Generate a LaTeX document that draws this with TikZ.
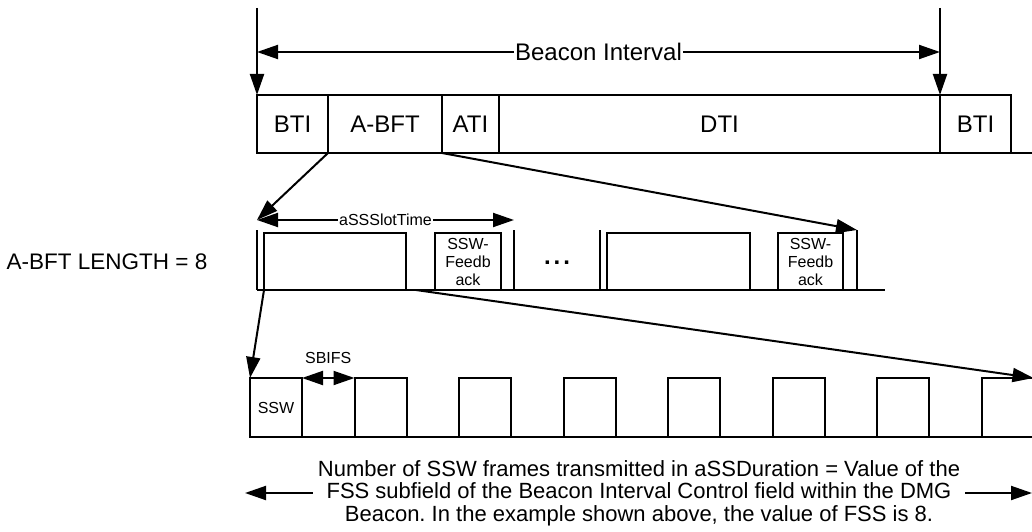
\documentclass[tikz,border=0pt]{standalone}
\usepackage{fontspec}
\setmainfont{Liberation Sans}
\usetikzlibrary{arrows.meta,calc}
\frenchspacing

\begin{document}
\begin{tikzpicture}[
  x=1pt, y=-1pt,
  font=\fontsize{24}{28}\selectfont,
  seg/.style={draw, line width=2pt, minimum height=58pt, inner sep=0pt, outer sep=0pt, anchor=north west},
  frm/.style={draw, line width=2pt, minimum height=57pt, inner sep=0pt, outer sep=0pt, anchor=south west, align=center, font=\fontsize{16}{18}\selectfont},
  ssw/.style={draw, line width=2pt, minimum height=59pt, minimum width=52pt, inner sep=0pt, outer sep=0pt, anchor=south west, font=\fontsize{16}{18}\selectfont},
  bar/.style={line width=2pt},
  arr/.style={-{Triangle[length=21pt, width=14pt]}, line width=2pt},
  dbl/.style={{Triangle[length=21pt, width=14pt]}-{Triangle[length=21pt, width=14pt]}, line width=2pt},
  lbl/.style={font=\fontsize{16}{18}\selectfont},
]
\useasboundingbox (0,0) rectangle (1032,532);

% ================= beacon interval =================
\node[seg, minimum width=71pt] (bti) at (257,95) {BTI};
\node[seg, minimum width=114pt] (abft) at (328,95) {A-BFT};
\node[seg, minimum width=57pt] (ati) at (442,95) {ATI};
\node[seg, minimum width=441pt] (dti) at (499,95) {DTI};
\node[seg, minimum width=71pt] (bti2) at (940,95) {BTI};
\coordinate (rowend) at (1032,153);
\draw[bar] (bti2.south east) -- (bti2.south east -| rowend);

% start / end markers
\coordinate (bstart) at (257,8);
\coordinate (bstop) at (940,8);
\draw[arr] (bstart) -- (bti.north west);
\draw[arr] (bstop) -- (bti2.north west);
\coordinate (bil) at (257,52);
\coordinate (bir) at (940,52);
\draw[dbl] (bil) -- node[fill=white, inner sep=1pt]{Beacon Interval} (bir);

% ================= A-BFT slots =================
\node[font=\fontsize{22.5}{26}\selectfont] (abftlen) at (107,262) {A-BFT LENGTH = 8};

\coordinate (bar1t) at (257,230);
\coordinate (bar1b) at (257,290);
\draw[bar] (bar1t) -- (bar1b);
\node[frm, minimum width=142pt] (slot1) at (264,290) {};
\node[frm, minimum width=66pt] (fb1) at (435,290) {SSW-\\Feedb\\ack};
\coordinate (bar2t) at (514,230);
\coordinate (bar2b) at (514,290);
\draw[bar] (bar2t) -- (bar2b);

\node[font=\fontsize{24}{24}\selectfont\bfseries] (dots) at (557,263) {.\kern3pt.\kern3pt.};

\coordinate (bar3t) at (600,230);
\coordinate (bar3b) at (600,290);
\draw[bar] (bar3t) -- (bar3b);
\node[frm, minimum width=143pt] (slot2) at (607,290) {};
\node[frm, minimum width=65pt] (fb2) at (778,290) {SSW-\\Feedb\\ack};
\coordinate (bar4t) at (857,230);
\coordinate (bar4b) at (857,290);
\draw[bar] (bar4t) -- (bar4b);

\coordinate (slotend) at (885,290);
\draw[bar] (bar1b) -- (slotend);

% slot time
\coordinate (sl) at (257,220);
\coordinate (sr) at (514,220);
\draw[dbl] (sl) -- node[lbl, fill=white, inner sep=1pt]{aSSSlotTime} (sr);

% zoom into A-BFT
\draw[arr] (abft.south west) -- (sl);
\draw[arr] (abft.south east) -- (bar4t);

% ================= SSW frames =================
\node[ssw] (ssw1) at (250,437) {SSW};
\foreach \i in {2,...,8}
  \node[ssw] (ssw\i) at ({250+104.5*(\i-1)},437) {};
\coordinate (frmend) at (1032,437);
\draw[bar] (ssw1.south west) -- (frmend);

\draw[dbl] (ssw1.north east) -- node[lbl, above=10pt]{SBIFS} (ssw2.north west);

% zoom into first slot
\draw[arr] (slot1.south west) -- (ssw1.north west);
\draw[arr] ($(slot1.south east)+(10,0)$) -- (ssw8.north east);

% ================= note =================
\node[align=center, inner sep=5pt, font=\fontsize{22}{22.5}\selectfont] (note) at (639,493)
  {Number of SSW frames transmitted in aSSDuration = Value of the\\
   FSS subfield of the Beacon Interval Control field within the DMG\\
   Beacon. In the example shown above, the value of FSS is 8.};
\coordinate (nl) at (245,493);
\coordinate (nr) at (1032,493);
\draw[arr] (note.west) -- (nl);
\draw[arr] (note.east) -- (nr);

\end{tikzpicture}
\end{document}
